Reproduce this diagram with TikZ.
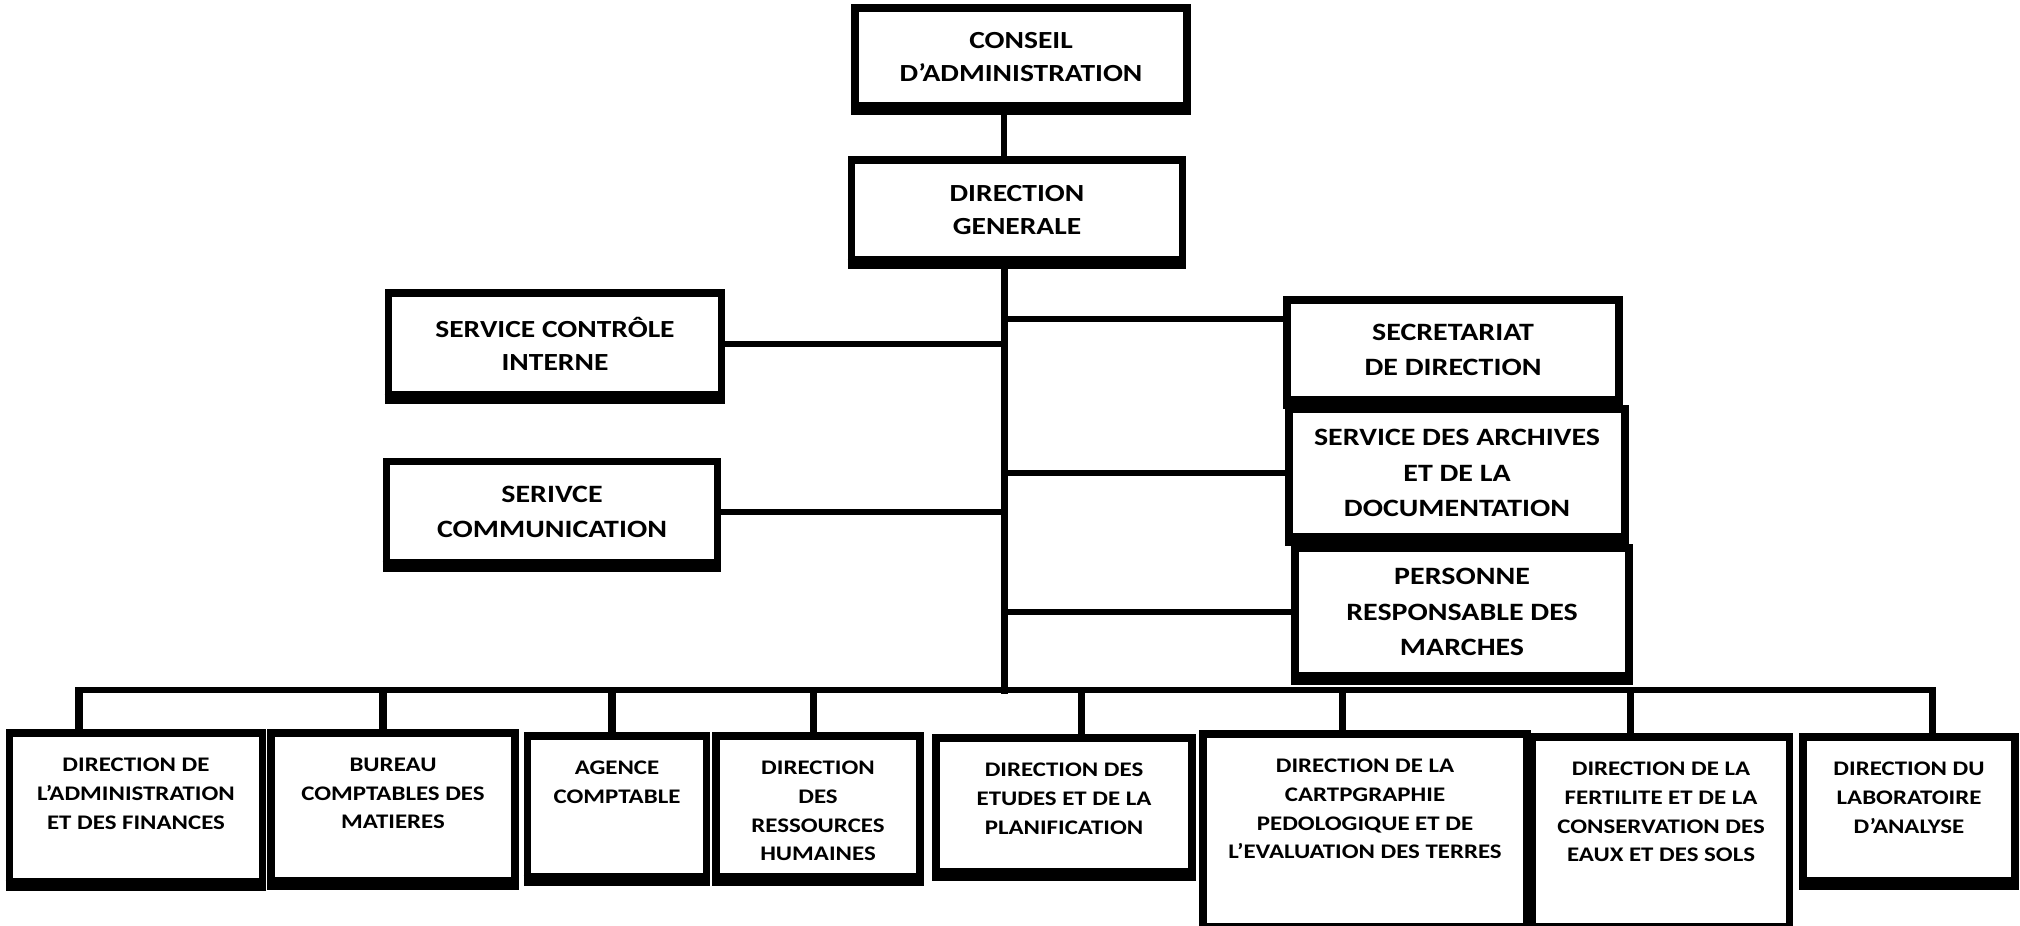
\documentclass[tikz,border=0pt]{standalone}
\usepackage{fontspec}
\newfontfamily\orgfont{Carlito}[FakeStretch=1.2]
\usetikzlibrary{calc}

\begin{document}
\begin{tikzpicture}[x=0.1mm,y=-0.1mm]
  \tikzstyle{obox} = [draw, line width=2.2pt, rectangle, inner sep=0pt, align=center, font=\orgfont\bfseries\fontsize{7}{9.5}\selectfont]
  \tikzstyle{rbox} = [obox, font=\orgfont\bfseries\fontsize{7.1}{10}\selectfont]
  \tikzstyle{dbox} = [obox, anchor=north, font=\orgfont\bfseries\fontsize{5.9}{8.2}\selectfont]
  \tikzstyle{link} = [line width=1.7pt, line cap=rect]

  \useasboundingbox (0,0) rectangle (2020,925);

  % direction
  \node[obox, minimum width=33.2mm, minimum height=9.8mm] (ca) at (1021,57) {CONSEIL\\D’ADMINISTRATION};
  \node[obox, minimum width=33.1mm, minimum height=10mm] (dg) at (1017,210) {DIRECTION\\GENERALE};
  \coordinate (trunk) at (1004,690);

  % services
  \node[obox, minimum width=33.3mm, minimum height=10.2mm] (ctrl) at (555,344) {SERVICE CONTRÔLE\\INTERNE};
  \node[rbox, minimum width=33.1mm, minimum height=10.1mm] (comm) at (552,512) {SERIVCE\\COMMUNICATION};
  \node[rbox, minimum width=33.2mm, minimum height=10mm] (secr) at (1453,350) {SECRETARIAT\\DE DIRECTION};
  \node[rbox, minimum width=33.6mm, minimum height=12.8mm] (arch) at (1457,473) {SERVICE DES ARCHIVES\\ET DE LA\\DOCUMENTATION};
  \node[rbox, minimum width=33.4mm, minimum height=12.8mm] (pers) at (1462,612) {PERSONNE\\RESPONSABLE DES\\MARCHES};
  \coordinate (secr-in) at ($(secr.west)+(0,-31)$);

  % directions
  \node[dbox, minimum width=25.3mm, minimum height=14.9mm] (d1) at (136,729) {\parbox[c][9.9mm][t]{24mm}{\centering DIRECTION DE\\L’ADMINISTRATION\\ET DES FINANCES}};
  \node[dbox, minimum width=24.4mm, minimum height=14.8mm] (d2) at (393,729) {\parbox[c][9.8mm][t]{23mm}{\centering BUREAU\\COMPTABLES DES\\MATIERES}};
  \node[dbox, minimum width=17.9mm, minimum height=14.1mm] (d3) at (617,732) {\parbox[c][9.1mm][t]{17mm}{\centering AGENCE\\COMPTABLE}};
  \node[dbox, minimum width=20.4mm, minimum height=14.1mm] (d4) at (818,732) {\parbox[c][9.1mm][t]{19mm}{\centering DIRECTION\\DES\\RESSOURCES\\HUMAINES}};
  \node[dbox, minimum width=25.6mm, minimum height=13.4mm] (d5) at (1064,734) {\parbox[c][8.4mm][t]{24mm}{\centering DIRECTION DES\\ETUDES ET DE LA\\PLANIFICATION}};
  \node[dbox, minimum width=32.4mm, minimum height=19.3mm] (d6) at (1365,730) {\parbox[c][14.3mm][t]{31mm}{\centering DIRECTION DE LA\\CARTPGRAPHIE\\PEDOLOGIQUE ET DE\\L’EVALUATION DES TERRES}};
  \node[dbox, minimum width=25.7mm, minimum height=19mm] (d7) at (1661,733) {\parbox[c][14mm][t]{24mm}{\centering DIRECTION DE LA\\FERTILITE ET DE LA\\CONSERVATION DES\\EAUX ET DES SOLS}};
  \node[dbox, minimum width=21.2mm, minimum height=14.4mm] (d8) at (1909,733) {\parbox[c][9.4mm][t]{20mm}{\centering DIRECTION DU\\LABORATOIRE\\D’ANALYSE}};

  % heavier lower edges
  \foreach \n in {ca,dg,ctrl,comm,secr,arch,pers,d1,d2,d3,d4,d5,d6,d7,d8}
    \draw[line width=3pt] (\n.south west) -- (\n.south east);

  % connectors
  \draw[link] (ca.south -| trunk) -- (dg.north -| trunk);
  \draw[link, line width=2pt] (dg.south -| trunk) -- (trunk);
  \draw[link] (ctrl) -- (ctrl -| trunk);
  \draw[link] (comm) -- (comm -| trunk);
  \draw[link] (secr-in -| trunk) -- (secr-in);
  \draw[link] (arch -| trunk) -- (arch);
  \draw[link] (pers -| trunk) -- (pers);

  \foreach \n/\x in {d1/79,d2/383,d3/612,d4/813,d5/1081,d6/1342,d7/1630,d8/1932} {
    \coordinate (t\n) at (\x,690);
    \draw[link, line width=2pt] (t\n) -- (t\n |- \n.north);
  }
  \draw[link] (td1) -- (td8);
\end{tikzpicture}
\end{document}
